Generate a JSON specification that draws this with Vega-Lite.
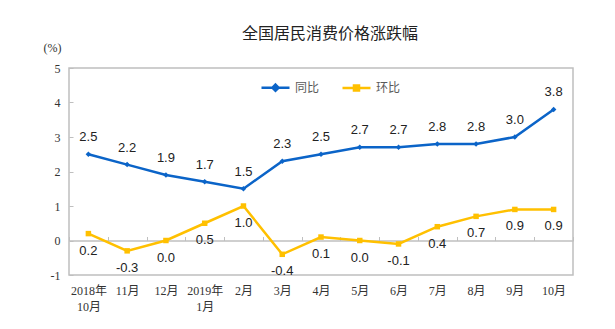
{
  "$schema": "https://vega.github.io/schema/vega-lite/v6.json",
  "width": 504,
  "height": 207,
  "autosize": {"type": "none"},
  "padding": {"left": 69, "top": 68, "right": 42, "bottom": 54},
  "background": "white",
  "config": {
    "view": {"stroke": "#bfbfbf", "strokeWidth": 1.5},
    "locale": {"number": {"decimal": ".", "thousands": ",", "grouping": [3], "currency": ["$", ""], "minus": "-"}}
  },
  "title": {
    "text": "全国居民消费价格涨跌幅",
    "font": "Noto Sans CJK SC",
    "fontSize": 16,
    "fontWeight": "normal",
    "color": "#222222",
    "anchor": "middle",
    "dx": 9,
    "offset": -1
  },
  "data": {
    "values": [
      {"month": "2018年|10月", "series": "同比", "value": 2.5},
      {"month": "11月", "series": "同比", "value": 2.2},
      {"month": "12月", "series": "同比", "value": 1.9},
      {"month": "2019年|1月", "series": "同比", "value": 1.7},
      {"month": "2月", "series": "同比", "value": 1.5},
      {"month": "3月", "series": "同比", "value": 2.3},
      {"month": "4月", "series": "同比", "value": 2.5},
      {"month": "5月", "series": "同比", "value": 2.7},
      {"month": "6月", "series": "同比", "value": 2.7},
      {"month": "7月", "series": "同比", "value": 2.8},
      {"month": "8月", "series": "同比", "value": 2.8},
      {"month": "9月", "series": "同比", "value": 3.0},
      {"month": "10月", "series": "同比", "value": 3.8},
      {"month": "2018年|10月", "series": "环比", "value": 0.2},
      {"month": "11月", "series": "环比", "value": -0.3},
      {"month": "12月", "series": "环比", "value": 0.0},
      {"month": "2019年|1月", "series": "环比", "value": 0.5},
      {"month": "2月", "series": "环比", "value": 1.0},
      {"month": "3月", "series": "环比", "value": -0.4},
      {"month": "4月", "series": "环比", "value": 0.1},
      {"month": "5月", "series": "环比", "value": 0.0},
      {"month": "6月", "series": "环比", "value": -0.1},
      {"month": "7月", "series": "环比", "value": 0.4},
      {"month": "8月", "series": "环比", "value": 0.7},
      {"month": "9月", "series": "环比", "value": 0.9},
      {"month": "10月", "series": "环比", "value": 0.9}
    ]
  },
  "encoding": {
    "x": {
      "field": "month",
      "type": "nominal",
      "sort": null,
      "scale": {"type": "band", "paddingInner": 0, "paddingOuter": 0},
      "axis": {
        "title": null,
        "orient": "bottom",
        "offset": -34.5,
        "domainColor": "#bfbfbf",
        "domainWidth": 1.5,
        "tickColor": "#bfbfbf",
        "tickSize": -4,
        "tickWidth": 1,
        "tickBand": "extent",
        "labelAngle": 0,
        "labelFont": "Liberation Serif, Noto Sans CJK SC",
        "labelFontSize": 12,
        "labelColor": "#333333",
        "labelPadding": 49,
        "labelLineHeight": 16,
        "labelExpr": "split(datum.label, '|')"
      }
    },
    "y": {
      "field": "value",
      "type": "quantitative",
      "scale": {"domain": [-1, 5], "nice": false, "zero": false},
      "axis": {
        "title": "(%)",
        "titleAngle": 0,
        "titleFont": "Liberation Serif",
        "titleFontSize": 12,
        "titleFontWeight": "normal",
        "titleColor": "#333333",
        "titleX": -17,
        "titleY": -21,
        "titleAlign": "center",
        "titleBaseline": "middle",
        "values": [-1, 0, 1, 2, 3, 4, 5],
        "domain": false,
        "grid": false,
        "tickColor": "#bfbfbf",
        "tickSize": -4,
        "labelFont": "Liberation Serif",
        "labelFontSize": 12,
        "labelColor": "#333333",
        "labelPadding": 13
      }
    },
    "color": {
      "field": "series",
      "type": "nominal",
      "scale": {"domain": ["同比", "环比"], "range": ["#0b64c8", "#ffc000"]},
      "legend": {
        "orient": "none",
        "legendX": 191,
        "legendY": 4,
        "direction": "horizontal",
        "title": null,
        "symbolType": "M-1,0H1",
        "symbolSize": 784,
        "symbolStrokeWidth": 2.5,
        "labelFont": "Noto Sans CJK SC",
        "labelFontSize": 12,
        "labelColor": "#595959",
        "labelOffset": 4,
        "columnPadding": 17,
        "encode": {
          "symbols": {
            "update": {
              "shape": {"signal": "datum.value === '同比' ? 'M-1,0H1M0,-0.22L0.22,0L0,0.22L-0.22,0Z' : 'M-1,0H1M-0.18,-0.18H0.18V0.18H-0.18Z'"},
              "fill": {"signal": "datum.value === '同比' ? '#0b64c8' : '#ffc000'"},
              "stroke": {"signal": "datum.value === '同比' ? '#0b64c8' : '#ffc000'"}
            }
          }
        }
      }
    }
  },
  "layer": [
    {"mark": {"type": "line", "strokeWidth": 2.5}},
    {
      "transform": [{"filter": "datum.series === '同比'"}],
      "mark": {"type": "point", "shape": "diamond", "filled": true, "size": 30, "opacity": 1}
    },
    {
      "transform": [{"filter": "datum.series === '环比'"}],
      "mark": {"type": "square", "size": 30, "opacity": 1}
    },
    {
      "transform": [{"filter": "datum.series === '同比'"}],
      "mark": {"type": "text", "dy": -17, "font": "Liberation Sans", "fontSize": 13},
      "encoding": {
        "text": {"field": "value", "type": "quantitative", "format": ".1f"},
        "color": {"value": "#222222"}
      }
    },
    {
      "transform": [{"filter": "datum.series === '环比'"}],
      "mark": {"type": "text", "dy": 17, "font": "Liberation Sans", "fontSize": 13},
      "encoding": {
        "text": {"field": "value", "type": "quantitative", "format": ".1f"},
        "color": {"value": "#222222"}
      }
    }
  ]
}
